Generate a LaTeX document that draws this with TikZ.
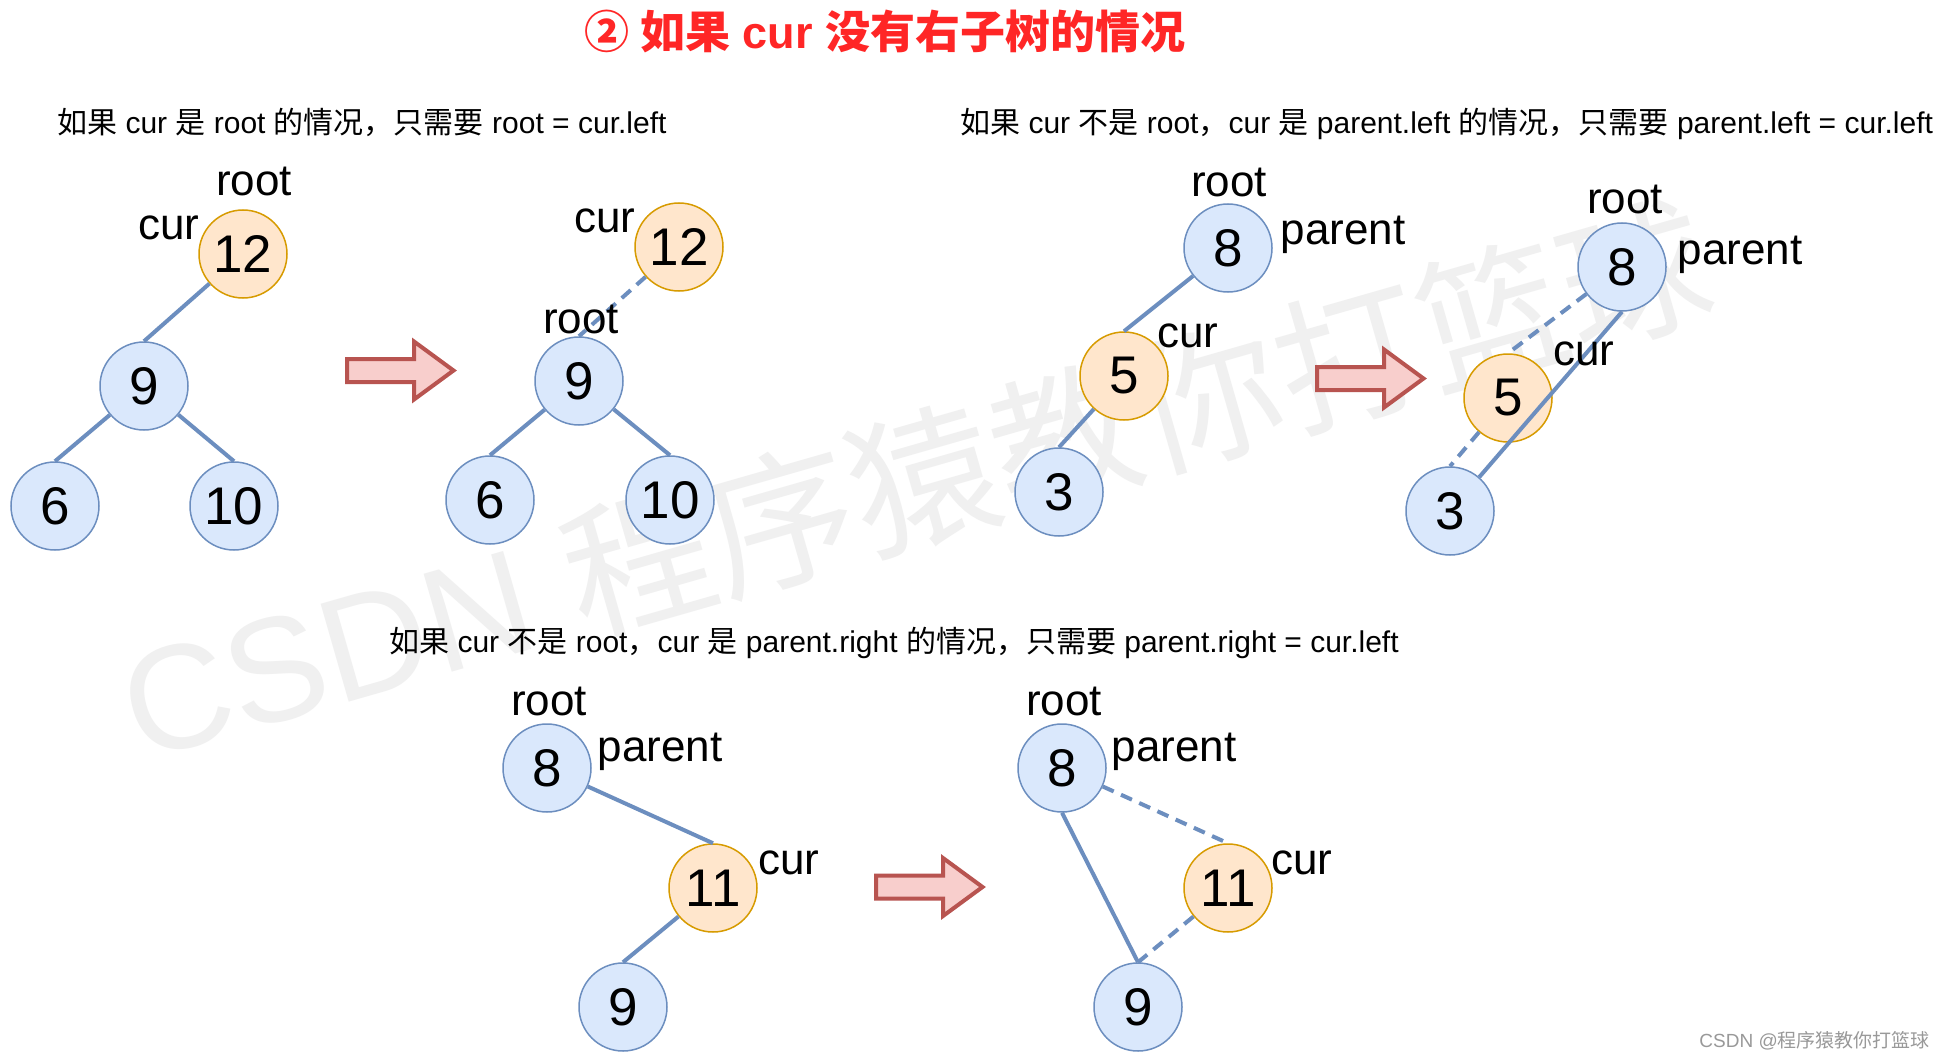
\documentclass[tikz,border=0pt]{standalone}
\usepackage{fontspec}
\setmainfont{Liberation Sans}
\newfontfamily\cjk{Noto Sans CJK SC}
\definecolor{nfill}{HTML}{DAE8FC}
\definecolor{nstroke}{HTML}{6C8EBF}
\definecolor{ofill}{HTML}{FFE6CC}
\definecolor{ostroke}{HTML}{D79B00}
\definecolor{afill}{HTML}{F8CECC}
\definecolor{astroke}{HTML}{B85450}
\definecolor{titlered}{RGB}{255,38,38}
\newcommand\fatarrow[3]{%
  \draw[bigarr] (#1,{#2-11.5}) -- ({#1+67},{#2-11.5}) -- ({#1+67},{#2-29}) -- ({#1+106.5},#2)
    -- ({#1+67},{#2+29}) -- ({#1+67},{#2+11.5}) -- (#1,{#2+11.5}) -- cycle;}
\begin{document}
\begin{tikzpicture}[x=1pt,y=-1pt,
  bnode/.style={circle, draw=nstroke, fill=nfill, line width=1.5pt, minimum size=88pt, inner sep=0pt, font=\fontsize{53}{60}\selectfont},
  onode/.style={bnode, draw=ostroke, fill=ofill},
  lbl/.style={anchor=base, inner sep=0pt, font=\fontsize{44}{50}\selectfont},
  tline/.style={draw=nstroke, line width=4pt},
  dline/.style={tline, dash pattern=on 12pt off 8pt},
  capt/.style={anchor=base west, inner sep=0pt, font=\fontsize{30}{34}\selectfont},
  bigarr/.style={fill=afill, draw=astroke, line width=4pt, line join=miter}]
\fill[white] (0,0) rectangle (1945,1059);
\useasboundingbox (0,0) rectangle (1945,1059);

% watermark
\node[rotate=16, anchor=base west, inner sep=0pt, text=black!6, font=\fontsize{148}{160}\selectfont] (wm) at (140,762) {CSDN {\cjk 程序猿教你打篮球}};
\node[anchor=base east, inner sep=0pt, text=black!40, font=\fontsize{19}{22}\selectfont] (csdn) at (1930,1047) {CSDN @{\cjk 程序猿教你打篮球}};

% title
\node[inner sep=0pt, text=titlered, font=\fontsize{45}{50}\selectfont\bfseries] (title) at (885,31) {{\cjk ② 如果} cur {\cjk 没有右子树的情况}};

% captions
\node[capt] (cap1) at (57,134) {{\cjk 如果} cur {\cjk 是} root {\cjk 的情况，只需要} root = cur.left};
\node[capt] (cap2) at (960,134) {{\cjk 如果} cur {\cjk 不是} root{\cjk ，}cur {\cjk 是} parent.left {\cjk 的情况，只需要} parent.left = cur.left};
\node[capt] (cap3) at (389,652) {{\cjk 如果} cur {\cjk 不是} root{\cjk ，}cur {\cjk 是} parent.right {\cjk 的情况，只需要} parent.right = cur.left};

% arrows
\fatarrow{347}{370.5}{a}
\fatarrow{1317}{378.5}{b}
\fatarrow{876}{887}{c}

% panel 1
\node[onode] (a12) at (243,254) {12};
\node[bnode] (a9) at (144,386) {9};
\node[bnode] (a6) at (55,506) {6};
\node[bnode] (a10) at (234,506) {10};
\draw[tline] (a12) -- (a9.north);
\draw[tline] (a9) -- (a6.north);
\draw[tline] (a9) -- (a10.north);
\node[lbl] (a12root) at (254,196) {root};
\node[lbl] (a12cur) at (169,240) {cur};

% panel 2
\node[onode] (b12) at (679,247) {12};
\node[bnode] (b9) at (579,381) {9};
\node[bnode] (b6) at (490,500) {6};
\node[bnode] (b10) at (670,500) {10};
\draw[dline] (b12) -- (b9.north);
\draw[tline] (b9) -- (b6.north);
\draw[tline] (b9) -- (b10.north);
\node[lbl] (b12cur) at (605,233) {cur};
\node[lbl] (b9root) at (581,333) {root};

% panel 3
\node[bnode] (c8) at (1228,248) {8};
\node[onode] (c5) at (1124,376) {5};
\node[bnode] (c3) at (1059,492) {3};
\draw[tline] (c8) -- (c5.north);
\draw[tline] (c5) -- (c3.north);
\node[lbl] (c8root) at (1229,197) {root};
\node[lbl] (c8par) at (1343,245) {parent};
\node[lbl] (c5cur) at (1188,347) {cur};

% panel 4
\node[bnode] (d8) at (1622,267) {8};
\node[onode] (d5) at (1508,398) {5};
\node[bnode] (d3) at (1450,511) {3};
\draw[dline] (d8) -- (d5.north);
\draw[dline] (d5) -- (d3.north);
\draw[tline] (d8.south) -- (d3);
\node[lbl] (d8root) at (1625,214) {root};
\node[lbl] (d8par) at (1740,265) {parent};
\node[lbl] (d5cur) at (1584,365) {cur};

% panel 5
\node[bnode] (e8) at (547,768) {8};
\node[onode] (e11) at (713,888) {11};
\node[bnode] (e9) at (623,1007) {9};
\draw[tline] (e8) -- (e11.north);
\draw[tline] (e11) -- (e9.north);
\node[lbl] (e8root) at (549,715) {root};
\node[lbl] (e8par) at (660,761) {parent};
\node[lbl] (e11cur) at (789,874) {cur};

% panel 6
\node[bnode] (f8) at (1062,768) {8};
\node[onode] (f11) at (1228,888) {11};
\node[bnode] (f9) at (1138,1007) {9};
\draw[dline] (f8) -- (f11.north);
\draw[dline] (f11) -- (f9.north);
\draw[tline] (f8.south) -- (f9.north);
\node[lbl] (f8root) at (1064,715) {root};
\node[lbl] (f8par) at (1174,761) {parent};
\node[lbl] (f11cur) at (1302,874) {cur};
\end{tikzpicture}
\end{document}
